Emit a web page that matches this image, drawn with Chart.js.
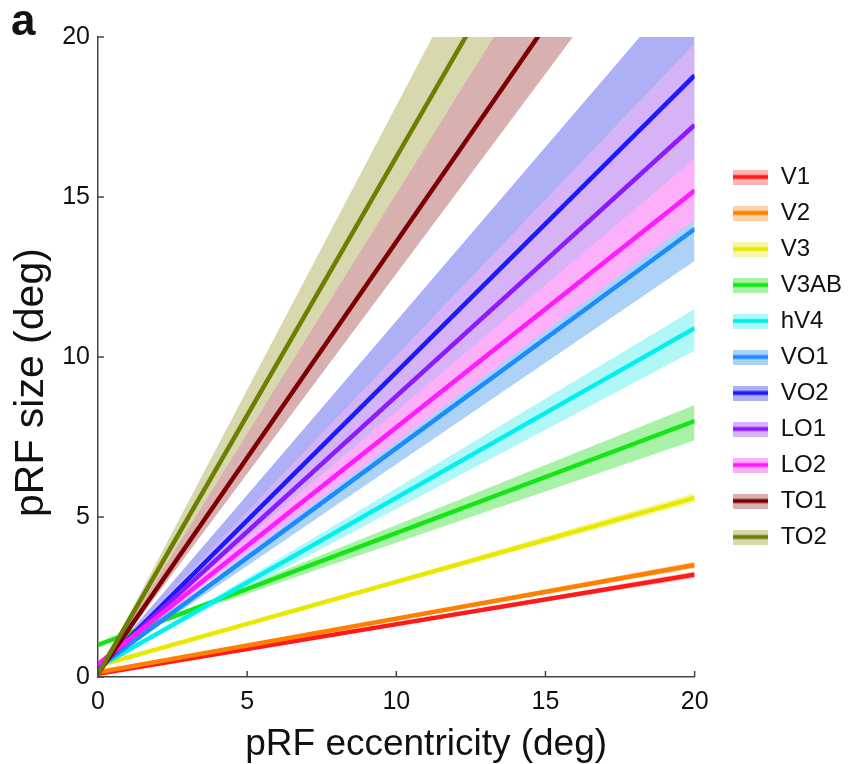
<!DOCTYPE html>
<html>
<head>
<meta charset="utf-8">
<title>pRF size vs eccentricity</title>
<script src="https://cdn.jsdelivr.net/npm/chart.js@4/dist/chart.umd.min.js"></script>
<style>
  body { margin: 0; background: #fff; }
  canvas { display: block; }
</style>
</head>
<body>
<canvas id="prf-chart" width="848" height="764"></canvas>
<script>
// visual areas (legend order)
const areas = ["V1", "V2", "V3", "V3AB", "hV4", "VO1", "VO2", "LO1", "LO2", "TO1", "TO2"];

// eccentricity where each fit line is sampled
const eccentricity = [0, 20];

// pRF size of the fit line at ecc 0 and ecc 20 (deg)
const sizeAt0 = [0.1, 0.15, 0.35, 1.0, 0.3, 0.3, 0.25, 0.3, 0.4, 0.1, 0.1];
const sizeAt20 = [3.2, 3.5, 5.6, 8.0, 10.9, 14.0, 18.8, 17.25, 15.2, 27.1, 32.4];

// shaded band edges at ecc 20 (band starts at the line at ecc 0)
const bandLowAt20 = [3.1, 3.4, 5.45, 7.4, 10.2, 13.0, 15.6, 14.8, 14.3, 25.1, 30.1];
const bandHighAt20 = [3.3, 3.6, 5.75, 8.5, 11.5, 14.6, 22.0, 19.8, 16.2, 30.6, 35.6];

const axisTicks = [0, 5, 10, 15, 20];

const lineColors = ["#ff1a1a", "#ff8000", "#e8e800", "#14e614", "#00f0f0", "#1a8cff",
  "#1a1aff", "#8a1aff", "#ff1aff", "#7d0000", "#6f7d00"];
const bandColors = ["#ffb3b3", "#ffd2a6", "#f7f7a8", "#a8f2a8", "#b0f8f8", "#acd2f8",
  "#aeb0f5", "#d6b2f6", "#fdb0fa", "#d9b0b0", "#d8d8ae"];

const FONT = "'Liberation Sans', Arial, Helvetica, sans-serif";

function linePoints(a, b) {
  return eccentricity.map((x, k) => ({ x: x, y: k === 0 ? a : b }));
}

// legend swatch: light band with the line through it
function swatch(i) {
  const c = document.createElement("canvas");
  c.width = 35;
  c.height = 15;
  const g = c.getContext("2d");
  g.fillStyle = bandColors[i];
  g.fillRect(0, 0, 35, 15);
  g.fillStyle = lineColors[i];
  g.fillRect(0, 5.5, 35, 4);
  return c;
}

const datasets = [];
areas.forEach((name, i) => {
  const order = areas.length - i; // later areas drawn on top
  datasets.push({
    data: linePoints(sizeAt0[i], bandHighAt20[i]),
    borderWidth: 0, borderColor: "transparent", pointRadius: 0, fill: false, order: order
  });
  datasets.push({
    data: linePoints(sizeAt0[i], bandLowAt20[i]),
    borderWidth: 0, borderColor: "transparent", pointRadius: 0,
    fill: "-1", backgroundColor: bandColors[i], order: order
  });
  datasets.push({
    label: name,
    data: linePoints(sizeAt0[i], sizeAt20[i]),
    borderColor: lineColors[i], borderWidth: 4.5, pointRadius: 0,
    fill: false, clip: 0, order: order
  });
});

// inward ticks, axis titles and panel letter
const decorations = {
  id: "decorations",
  afterDatasetsDraw(chart) {
    const { ctx, chartArea, scales } = chart;
    const xs = scales.x, ys = scales.y;
    ctx.save();
    ctx.strokeStyle = "#444";
    ctx.lineWidth = 1.5;
    ctx.beginPath();
    axisTicks.forEach(v => {
      const px = xs.getPixelForValue(v);
      ctx.moveTo(px, chartArea.bottom);
      ctx.lineTo(px, chartArea.bottom - 6);
      const py = ys.getPixelForValue(v);
      ctx.moveTo(chartArea.left, py);
      ctx.lineTo(chartArea.left + 6, py);
    });
    ctx.stroke();

    ctx.fillStyle = "#111";
    ctx.textBaseline = "alphabetic";
    ctx.textAlign = "center";
    ctx.font = "37px " + FONT;
    ctx.fillText("pRF eccentricity (deg)", xs.getPixelForValue(11), chartArea.bottom + 78);

    ctx.save();
    ctx.translate(chartArea.left - 55, ys.getPixelForValue(9.2));
    ctx.rotate(-Math.PI / 2);
    ctx.font = "41px " + FONT;
    ctx.fillText("pRF size (deg)", 0, 0);
    ctx.restore();

    ctx.textAlign = "left";
    ctx.font = "bold 44px " + FONT;
    ctx.fillText("a", 11, 35);
    ctx.restore();
  }
};

new Chart(document.getElementById("prf-chart"), {
  type: "line",
  data: { datasets: datasets },
  options: {
    responsive: false,
    animation: false,
    devicePixelRatio: 1,
    layout: { padding: { top: 37, left: 0, right: -4, bottom: 0 } },
    plugins: {
      tooltip: { enabled: false },
      filler: { drawTime: "beforeDatasetsDraw" },
      legend: {
        position: "right",
        fullSize: false,
        labels: {
          usePointStyle: true,
          pointStyleWidth: 36,
          boxHeight: 24,
          padding: 12,
          color: "#111",
          font: { family: FONT, size: 24 },
          generateLabels: () => areas.map((name, i) => ({
            text: name,
            pointStyle: swatch(i),
            fillStyle: "transparent",
            strokeStyle: "transparent",
            lineWidth: 0,
            hidden: false,
            datasetIndex: i * 3 + 2,
            fontColor: "#111"
          }))
        }
      }
    },
    scales: {
      x: {
        type: "linear",
        min: 0, max: 20,
        grid: { display: false, drawTicks: false },
        border: { display: true, color: "#444", width: 1.5 },
        ticks: { stepSize: 5, padding: 10, color: "#111", font: { family: FONT, size: 25 } },
        afterFit: s => { s.height = 87; }
      },
      y: {
        type: "linear",
        min: 0, max: 20,
        grid: { display: false, drawTicks: false },
        border: { display: true, color: "#444", width: 1.5 },
        ticks: { stepSize: 5, padding: 8, color: "#111", font: { family: FONT, size: 25 } },
        afterFit: s => { s.width = 98; }
      },
      spacer: {
        type: "linear",
        position: "right",
        display: true,
        grid: { display: false, drawTicks: false },
        border: { display: false },
        ticks: { display: false },
        afterFit: s => { s.width = 26; }
      }
    }
  },
  plugins: [decorations]
});
</script>
</body>
</html>
